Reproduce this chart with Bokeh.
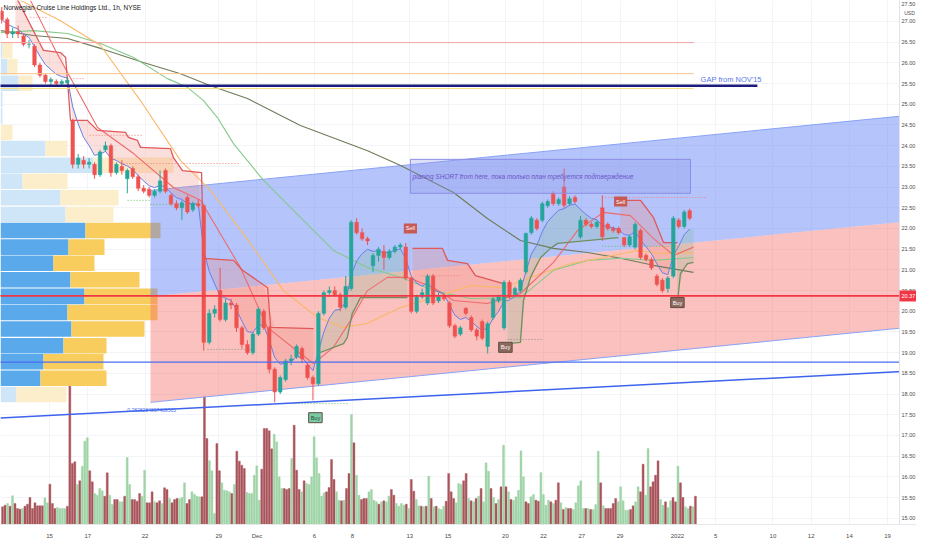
import numpy as np
from bokeh.plotting import figure
from bokeh.models import Range1d, FixedTicker, Label
from bokeh.core.properties import value
from bokeh.embed import file_html
from bokeh.resources import INLINE

# ---------------- data ----------------
title_text = "Norwegian Cruise Line Holdings Ltd., 1h, NYSE"

# x axis: hourly bar index (0 = first bar of Nov 15)
tick_bar = [0, 14, 35, 62, 76, 97, 111, 132, 146, 167, 181, 195, 209, 230, 244, 265, 279, 293, 307]
tick_label = ["15", "17", "22", "29", "Dec", "6", "8", "13", "15", "20", "22", "27", "29",
              "2022", "5", "10", "12", "14", "19"]
price_ticks = [15.0 + 0.5 * k for k in range(25)]

# candles (each covers two hourly bars)
candle_bar = list(range(-18, 236, 2))
c_open = [27.25, 27.05, 26.70, 26.75, 26.65, 26.45, 26.40, 25.95, 25.70, 25.55, 25.55, 25.50, 25.52,
          24.60, 23.55, 23.65, 23.55, 23.55, 23.30, 23.90, 24.00, 23.35, 23.50, 23.20, 23.45, 23.25,
          22.97, 22.95, 22.80, 22.90, 23.40, 22.80, 22.60, 22.50, 22.75, 22.45, 22.60, 22.55, 19.25,
          19.95, 20.50, 19.80, 20.20, 20.15, 19.60, 19.20, 19.00, 19.45, 20.00, 19.60, 18.60, 18.05,
          18.35, 18.80, 18.90, 19.10, 18.70, 18.40, 18.25, 19.95, 20.45, 20.50, 20.40, 20.10, 20.55,
          22.15, 21.90, 21.75, 21.10, 21.35, 21.45, 21.30, 21.45, 21.55, 21.55, 20.80, 20.00, 20.35,
          20.20, 20.85, 20.25, 20.35, 20.20, 19.65, 19.45, 20.07, 19.85, 19.55, 19.75, 19.15, 19.85,
          20.25, 19.60, 20.70, 20.40, 20.50, 20.95, 21.90, 22.20, 22.20, 22.55, 22.85, 22.60, 23.00,
          22.60, 22.75, 21.80, 22.20, 22.10, 22.05, 22.50, 22.10, 22.00, 22.00, 21.78, 21.60, 21.55,
          21.95, 21.35, 21.25, 20.85, 20.75, 20.55, 20.85, 22.20, 22.05, 22.43]
c_high = [27.35, 27.10, 26.85, 26.90, 26.70, 26.55, 26.45, 26.00, 25.75, 25.65, 25.60, 25.60, 25.65,
          24.65, 23.80, 23.75, 23.70, 23.60, 23.90, 24.10, 24.05, 23.60, 23.65, 23.45, 23.50, 23.30,
          23.05, 23.00, 22.95, 23.40, 23.45, 22.85, 22.68, 22.68, 22.80, 22.65, 22.70, 22.60, 20.05,
          20.15, 21.05, 20.30, 20.30, 20.20, 19.65, 19.30, 19.50, 20.10, 20.05, 19.65, 18.65, 18.45,
          18.85, 18.95, 19.20, 19.15, 18.75, 18.45, 20.00, 20.50, 20.60, 20.60, 20.45, 20.85, 22.20,
          22.25, 22.00, 21.80, 21.40, 21.55, 21.60, 21.50, 21.60, 21.65, 21.65, 20.85, 20.40, 20.55,
          20.90, 20.90, 20.45, 20.40, 20.25, 19.70, 19.65, 20.10, 19.90, 19.60, 19.80, 19.75, 20.35,
          20.40, 20.75, 20.75, 20.60, 20.80, 21.90, 22.30, 22.25, 22.65, 22.70, 22.90, 22.75, 23.45,
          22.78, 22.80, 22.30, 22.25, 22.15, 22.20, 22.80, 22.15, 22.05, 22.05, 21.80, 21.85, 22.15,
          22.00, 21.40, 21.30, 20.90, 20.80, 20.85, 22.30, 22.25, 22.45, 22.48]
c_low = [26.95, 26.60, 26.60, 26.60, 26.40, 26.35, 25.90, 25.65, 25.50, 25.45, 25.42, 25.45, 25.48,
         23.45, 23.45, 23.45, 23.45, 23.20, 23.25, 23.85, 23.25, 23.30, 23.30, 22.85, 23.20, 22.90,
         22.85, 22.75, 22.75, 22.85, 22.85, 22.55, 22.44, 22.20, 22.35, 22.40, 22.50, 19.05, 19.20,
         19.85, 19.75, 19.75, 20.05, 19.50, 19.10, 18.95, 18.95, 19.40, 19.55, 18.50, 17.80, 18.00,
         18.30, 18.70, 18.85, 18.75, 18.35, 17.85, 18.20, 19.90, 20.35, 20.35, 20.00, 20.05, 20.50,
         21.85, 21.70, 21.60, 20.95, 21.20, 21.00, 21.25, 21.40, 21.50, 20.75, 19.95, 19.95, 20.30,
         20.15, 20.15, 20.20, 20.25, 19.60, 19.35, 19.40, 19.90, 19.50, 19.30, 19.30, 18.98, 19.80,
         20.20, 19.55, 20.30, 20.35, 20.45, 20.90, 21.85, 21.95, 22.15, 22.50, 22.55, 22.55, 22.50,
         22.55, 22.60, 21.75, 22.05, 22.00, 22.00, 21.70, 21.95, 21.90, 21.85, 21.55, 21.55, 21.50,
         21.25, 21.20, 21.00, 20.60, 20.45, 20.45, 20.80, 22.00, 22.00, 22.20]
c_close = [27.05, 26.70, 26.75, 26.70, 26.45, 26.45, 25.95, 25.70, 25.55, 25.60, 25.50, 25.55, 25.58,
           23.55, 23.70, 23.55, 23.60, 23.30, 23.85, 24.00, 23.35, 23.55, 23.40, 23.40, 23.25, 22.97,
           22.90, 22.80, 22.90, 23.15, 22.90, 22.60, 22.50, 22.62, 22.40, 22.60, 22.55, 19.25, 19.95,
           20.05, 19.80, 20.20, 20.15, 19.60, 19.20, 19.00, 19.45, 20.05, 19.60, 18.60, 18.05, 18.40,
           18.80, 18.85, 19.15, 18.85, 18.40, 18.25, 19.95, 20.45, 20.50, 20.40, 20.10, 20.60, 22.15,
           21.90, 21.75, 21.70, 21.35, 21.50, 21.30, 21.45, 21.55, 21.60, 20.80, 20.00, 20.35, 20.45,
           20.85, 20.20, 20.35, 20.30, 19.65, 19.40, 19.60, 19.95, 19.55, 19.40, 19.35, 19.70, 20.30,
           20.35, 20.70, 20.35, 20.55, 20.75, 21.88, 22.25, 22.00, 22.60, 22.65, 22.60, 22.70, 22.56,
           22.72, 22.65, 22.20, 22.10, 22.05, 22.15, 21.80, 22.00, 21.95, 21.90, 21.60, 21.80, 22.10,
           21.30, 21.25, 21.05, 20.65, 20.50, 20.80, 22.25, 22.05, 22.40, 22.25]

# hourly volume (relative units), with up/down flag per bar
volume = [6.7, 8.3, 10, 7.3, 17.7, 10, 5, 4.3, 5, 7.3,
          9.3, 16, 5, 10.7, 7.7, 7.7, 7.7, 15.7, 10.7, 29.3,
          10, 5, 6, 5, 5, 5, 7.3, 131.7, 50, 51.7,
          29, 32.7, 47.3, 72.3, 75.7, 42.7, 31.7, 20, 18.3, 25,
          22.7, 17.3, 40.7, 18.3, 9, 14, 14, 11.7, 11.7, 17.3,
          56, 29, 14, 14, 12.3, 20, 17.3, 43.3, 10.7, 10.7,
          21.7, 11.7, 10.7, 12.7, 10, 25.7, 24, 15, 10.7, 14,
          15, 15, 16, 30.7, 10, 14, 21.7, 19.3, 17.3, 16.7,
          16.7, 116.7, 75, 52.7, 42.7, 0, 70, 42.7, 30.7, 23.3,
          22.7, 21.7, 20, 29, 62.3, 52.3, 48.3, 45, 21, 20,
          20, 38.3, 47.7, 13.3, 44.3, 85, 85, 82.7, 64.7, 79.3,
          71.7, 36.7, 25, 25, 24, 25, 55, 88.3, 43.3, 24,
          21.7, 32.7, 30, 29, 36.7, 76.7, 55.7, 40, 17.3, 20.7,
          21.7, 26, 54, 34, 21.7, 13.3, 12.7, 13.3, 25, 40,
          99, 70.7, 38.3, 18.3, 14, 15, 15, 21.7, 24, 13.3,
          11.7, 9.3, 11.7, 12.7, 11.7, 17.3, 24, 18.3, 10, 7.3,
          10, 8.3, 9.3, 5, 34, 22.3, 14, 7.7, 7.3, 6.7,
          7.3, 37.3, 15, 6.7, 7.3, 5, 4, 7.3, 12.3, 40,
          21.7, 15, 10.7, 30, 29, 32.7, 40, 15, 12.7, 11.7,
          15, 17.3, 25, 11.7, 50.7, 42.3, 25, 16, 10, 14,
          26.7, 68.3, 26.7, 21.7, 14, 13.3, 16.7, 23.3, 62.7, 36.7,
          11.7, 10, 16.7, 19, 13.3, 12.3, 41, 19, 8.3, 13.3,
          11.7, 10, 13.3, 30.7, 10.7, 4, 6, 5, 5, 4,
          10.7, 27.7, 32.7, 5, 5, 5, 4, 4, 9, 62.3,
          30.7, 7.7, 5, 5, 5, 10, 15, 11.7, 26.7, 12.7,
          3.3, 3.3, 4, 7.7, 11.7, 26.7, 21.7, 49.3, 18.3, 65,
          26.7, 31.7, 38.3, 52.7, 14, 8.3, 11.7, 6, 12.7, 16,
          11.7, 47.3, 30.7, 16, 6.7, 5, 7.3, 6.7, 17.3]
volume_dir = ("rrgrgrrrgr" "rrrrrrrggr" "rrggggrrrr" "grgggrrggg" "grrggrrggr"
              "ggrrrrggrr" "rgrrgrrgrr" "rgggrrgggg" "rrrgggrrgg" "ggrgrrrrgg"
              "ggggrrrrrg" "gggrrrgrrr" "grgggggggg" "rrrrggrgrr" "grggrrrggg"
              "grgrggrrgg" "ggrgrrggrg" "rgrgrgggrr" "rrgggrrgrg" "rgrgggrgrg"
              "rgrgrggggg" "rrggrrgggg" "rgrrgrgrrg" "ggggrgrggg" "rgrrrrrggg"
              "ggrrggrrgg" "rrrrggrggr" "rgrrggrgr")

# visible-range volume profile (row centre price, up volume, down volume, inside value area)
vp_price = [26.30, 25.91, 25.51, 25.12, 24.72, 24.32, 23.93, 23.53, 23.14, 22.74, 22.34,
            21.95, 21.55, 21.16, 20.76, 20.36, 19.97, 19.57, 19.17, 18.78, 18.38, 17.99]
vp_up = [2, 7, 18, 2, 2, 0, 45, 93, 22, 60, 65, 85, 68, 53, 70, 84, 67, 71, 63, 43, 40, 16]
vp_down = [10, 10, 14, 0, 0, 12, 22, 80, 45, 58, 48, 75, 36, 41, 69, 73, 90, 73, 43, 60, 66, 50]
vp_value_area = [False] * 11 + [True] * 10 + [False]

# moving averages (bar index, price)
ma_red_bar = [-7.0, 2.2, 17.6, 30.8, 45.4, 55.3, 69.9, 79.8, 91.9, 96.7, 104.0, 110.3, 116.5, 123.8,
              131.1, 140.7, 148.0, 160.4, 172.5, 184.6, 193.4, 202.9, 212.8, 221.2, 228.6, 235.9]
ma_red = [27.51, 26.30, 24.44, 23.81, 22.99, 22.68, 21.06, 19.61, 18.98, 18.74, 19.13, 19.78, 20.50,
          20.82, 20.82, 20.57, 20.26, 20.19, 20.43, 21.18, 21.95, 22.39, 22.31, 21.76, 21.35, 21.55]
ma_orange_bar = [-10.6, 4.0, 18.7, 33.3, 48.0, 59.0, 73.6, 85.7, 98.2, 107.7, 116.5, 128.6, 143.2,
                 154.2, 166.3, 176.2, 190.8, 202.9, 215.4, 223.8, 235.9]
ma_orange = [27.51, 27.02, 26.42, 25.09, 23.64, 22.92, 21.64, 20.50, 19.85, 19.61, 19.71, 20.09, 20.38,
             20.62, 20.57, 20.82, 21.15, 21.30, 21.47, 21.40, 21.42]
ma_green_bar = [-17.9, -5.9, 6.6, 18.7, 30.8, 43.2, 50.5, 56.4, 61.5, 67.4, 78.4, 91.9, 104.0, 116.5,
                128.6, 140.7, 154.2, 172.5, 184.6, 197.1, 209.2, 221.2, 235.9]
ma_green = [26.73, 26.78, 26.71, 26.47, 26.13, 25.62, 25.41, 25.09, 24.68, 24.05, 23.16, 22.27, 21.47,
            21.06, 20.82, 20.50, 20.31, 20.33, 20.99, 21.23, 21.28, 21.23, 21.30]
ma_dark_bar = [-17.9, -5.9, 6.6, 18.7, 34.4, 48.0, 59.0, 72.5, 91.9, 116.5, 128.6, 148.0, 160.4,
               172.5, 184.6, 197.1, 209.2, 221.2, 235.9]
ma_dark = [26.78, 26.66, 26.59, 26.35, 26.01, 25.74, 25.45, 25.14, 24.49, 23.88, 23.52, 22.87, 22.24,
           21.71, 21.52, 21.42, 21.28, 21.11, 20.94]

# trailing stop (supertrend-like) segments
st_red = [
    ([-12.5, -2.2, 4.0, 5.9, 6.6, 7.7, 13.9, 17.6, 27.8, 28.9, 32.2, 33.3, 44.3, 45.4, 48.7, 55.7,
      56.4, 67.4, 70.7, 79.9, 81.0, 96.7],
     [27.63, 26.30, 26.25, 26.13, 25.57, 24.61, 24.61, 24.37, 24.32, 24.20, 24.13, 23.96, 23.93,
      23.71, 23.40, 23.35, 21.28, 21.23, 20.99, 20.57, 19.61, 19.58]),
    ([133.0, 143.9, 145.8, 153.1, 156.0, 166.3], [21.52, 21.52, 21.23, 21.15, 20.86, 20.67]),
    ([209.2, 216.5, 221.2, 224.9, 230.0], [22.68, 22.68, 22.27, 21.66, 21.66]),
]
st_green = [
    ([98.2, 107.7, 109.1, 110.9, 112.1, 113.9, 131.1], [18.98, 19.22, 19.37, 19.95, 20.09, 20.33, 20.33]),
    ([167.8, 172.5, 173.6, 176.2, 178.0, 179.9, 183.5, 186.1, 208.4],
     [19.22, 19.25, 20.26, 20.82, 21.06, 21.30, 21.52, 21.64, 21.78]),
    ([230.0, 231.1, 233.7, 235.9], [20.19, 20.91, 21.15, 21.18]),
]

# signals (bar, price, text, kind)
signals = [(132.2, 22.00, "Sell", "sell"), (209.2, 22.65, "Sell", "sell"),
           (167.0, 19.13, "Buy", "buy"), (230.0, 20.21, "Buy", "buy"), (97.4, 17.43, "Buy", "buy0")]

# regression channel
ch_bar = [37.0, 315.8]
ch_mid = [20.36, 22.18]
ch_dev = 2.56

# horizontal levels
lvl_pink, lvl_orange, lvl_navy, lvl_yellow = 26.49, 25.74, 25.45, 25.38
lvl_blue, lvl_red = 18.77, 20.37
lvl_end_bar, navy_end_bar = 236.0, 259.3
trend_bar = [-18.0, 315.8]
trend_price = [17.42, 18.56]

# pivot dotted segments (bar0, bar1, price, colour)
pivots = [(-7.0, -0.4, 27.10, "#f47c7c"), (6.6, 13.2, 25.62, "#f47c7c"), (14.7, 34.4, 24.25, "#f47c7c"),
          (26.0, 70.0, 23.57, "#f47c7c"), (28.6, 37.0, 22.68, "#66bb6a"), (37.0, 56.4, 22.58, "#66bb6a"),
          (57.9, 75.5, 19.08, "#8d8d8d"), (83.5, 109.5, 17.77, "#66bb6a"), (135.9, 150.5, 20.86, "#f47c7c"),
          (167.8, 181.0, 19.32, "#8d8d8d"), (202.5, 241.0, 22.75, "#f47c7c"), (202.5, 230.4, 21.57, "#66bb6a")]

gap_text = "GAP from NOV'15"
plan_text = "planing SHORT from here, пока только план требуется подтверждение"
plan_box = (132.2, 234.8, 23.67, 22.85)
fib_text = "0.2828284867489565"

# ---------------- layout ----------------
W, FH = 916, 524
PX_PER_BAR = 2.73
PX_PER_USD = 41.4
X0 = -17.95                       # bar index at the left edge
X1 = X0 + W / PX_PER_BAR
Y1 = 27.507                       # price at the top edge
Y0 = Y1 - FH / PX_PER_USD
SEP = X0 + 899 / PX_PER_BAR       # price-scale separator
PAD = 2 / PX_PER_BAR
FONT = "Liberation Sans"

p = figure(frame_width=W, frame_height=FH, x_range=Range1d(X0, X1), y_range=Range1d(Y0, Y1),
           y_axis_location=None, output_backend="svg", toolbar_location=None,
           min_border_left=0, min_border_top=0, min_border_right=0, min_border_bottom=10)
p.outline_line_color = None
p.background_fill_color = "white"
p.border_fill_color = "white"

xa = p.xaxis[0]
xa.ticker = FixedTicker(ticks=tick_bar)
xa.major_label_overrides = {t: l for t, l in zip(tick_bar, tick_label)}
xa.major_label_text_font_size = "6px"
xa.major_label_text_font = FONT
xa.major_label_text_color = "#4a4a4a"
xa.major_tick_line_color = None
xa.minor_tick_line_color = None
xa.axis_line_color = "#e6e8ee"
xa.major_label_standoff = 2

p.xgrid.ticker = FixedTicker(ticks=tick_bar)
p.ygrid.ticker = FixedTicker(ticks=price_ticks)
p.xgrid.grid_line_color = "#f2f4f8"
p.ygrid.grid_line_color = "#f2f4f8"

# volume (own scale, bottom of pane)
p.extra_y_ranges = {"vol": Range1d(-11, FH - 11)}
vol_x = np.linspace(candle_bar[0] + 0.8, candle_bar[-1] + 2.6, len(volume))
vol_col = ["#a9545b" if d == "r" else "#9fd4a7" for d in volume_dir]
p.vbar(x=vol_x, top=volume, bottom=-20, width=0.72, fill_color=vol_col, line_color=vol_col,
       line_width=0.4, y_range_name="vol")

# volume profile
vp_left = X0
for pr, up, dn, va in zip(vp_price, vp_up, vp_down, vp_value_area):
    cb = "#5aa9ea" if va else "#cfe6f8"
    cy = "#f8cd5e" if va else "#fdeecb"
    r1 = vp_left + up / PX_PER_BAR
    r2 = r1 + dn / PX_PER_BAR
    if up > 0:
        p.hbar(y=[pr], height=0.375, left=[vp_left], right=[r1], fill_color=cb, line_color=None)
    if dn > 0:
        p.hbar(y=[pr], height=0.375, left=[r1], right=[r2], fill_color=cy, line_color=None)

# regression channel
mid = np.array(ch_mid)
p.varea(x=ch_bar, y1=mid, y2=mid + ch_dev, fill_color="#5b7cf5", fill_alpha=0.45)
p.varea(x=ch_bar, y1=mid - ch_dev, y2=mid, fill_color="#f36b66", fill_alpha=0.42)
p.line(ch_bar, mid + ch_dev, line_color="#8aa2f5", line_width=1)
p.line(ch_bar, mid - ch_dev, line_color="#8aa2f5", line_width=1)

# fast EMA of closes
cx = np.array(candle_bar, dtype=float) + 0.5
closes = np.array(c_close)
ema = np.empty_like(closes)
ema[0] = closes[0]
a = 2.0 / 6.0
for k in range(1, len(closes)):
    ema[k] = a * closes[k] + (1 - a) * ema[k - 1]

# trailing stop clouds
def cloud(seg_x, seg_y, color, alpha):
    xs = [seg_x[0]] + [x for x in cx if seg_x[0] < x < seg_x[-1]] + [seg_x[-1]]
    xs = np.array(xs)
    p.varea(x=xs, y1=np.interp(xs, seg_x, seg_y), y2=np.interp(xs, cx, ema),
            fill_color=color, fill_alpha=alpha)

for sx, sy in st_red:
    cloud(sx, sy, "#f28b82", 0.28)
for sx, sy in st_green:
    cloud(sx, sy, "#78b487", 0.22)

# moving averages
p.line(ma_dark_bar, ma_dark, line_color="#6e7c58", line_width=1.1)
p.line(ma_green_bar, ma_green, line_color="#86c98b", line_width=1.1)
p.line(ma_orange_bar, ma_orange, line_color="#f9b866", line_width=1.1)
p.line(ma_red_bar, ma_red, line_color="#ee6b6b", line_width=1.1)
p.line(cx, ema, line_color="#6680e8", line_width=1)

for sx, sy in st_red:
    p.line(sx, sy, line_color="#e0585a", line_width=1.3)
for sx, sy in st_green:
    p.line(sx, sy, line_color="#6f8f5f", line_width=1.3)

# pivots
for b0, b1, pr, col in pivots:
    p.segment(x0=[b0], y0=[pr], x1=[b1], y1=[pr], line_color=col, line_width=1, line_dash="1 2")

# candles
up = closes >= np.array(c_open)
ccol = np.where(up, "#26a69a", "#ef5350")
p.segment(x0=cx, y0=c_low, x1=cx, y1=c_high, line_color=ccol, line_width=1)
p.vbar(x=cx, top=np.maximum(c_open, c_close), bottom=np.minimum(c_open, c_close), width=1.3,
       fill_color=ccol, line_color=ccol, line_width=0.5)

# levels
p.line([X0 - 5, lvl_end_bar], [lvl_pink, lvl_pink], line_color="#f5a3a3", line_width=1)
p.line([X0 - 5, lvl_end_bar], [lvl_orange, lvl_orange], line_color="#f9c58f", line_width=1)
p.line([X0 - 5, lvl_end_bar], [lvl_yellow, lvl_yellow], line_color="#f7dd7a", line_width=1)
p.line([X0 - 5, navy_end_bar], [lvl_navy, lvl_navy], line_color="#1c1c7c", line_width=2.5)
p.line([X0 - 5, X1 + 5], [lvl_blue, lvl_blue], line_color="#4a6cf0", line_width=1.2)
p.line([X0 - 5, X1 + 5], [lvl_red, lvl_red], line_color="#f23645", line_width=1.8)
p.line(trend_bar, trend_price, line_color="#3e63ee", line_width=1.5)

# annotation box and texts
l, r, t, b = plan_box
p.quad(left=[l], right=[r], top=[t], bottom=[b], fill_color="#8f96ea", fill_alpha=0.3,
       line_color="#8c8de4", line_width=1)
p.text(x=[l + 0.8], y=[(t + b) / 2], text=[plan_text], text_font=value(FONT), text_font_style="italic",
       text_font_size="6.5px", text_color="#6a55c8", text_baseline="middle")
p.text(x=[238.5], y=[25.59], text=[gap_text], text_font=value(FONT), text_font_size="7.5px",
       text_color="#5a78ea", text_baseline="middle")
p.text(x=[28.5], y=[17.62], text=[fib_text], text_font=value(FONT), text_font_size="5px",
       text_color="#4a6cf0", text_baseline="middle")

for bx, by, txt, kind in signals:
    if kind == "sell":
        fill, tc = "#c75a55", "white"
    elif kind == "buy":
        fill, tc = "#8c6a5e", "white"
    else:
        fill, tc = "#7ccaa4", "#1d4d3d"
    p.add_layout(Label(x=bx, y=by, text=txt, text_font=FONT, text_font_size="5.5px", text_color=tc,
                       text_align="center", text_baseline="middle", background_fill_color=fill,
                       border_line_color="#5d4a40" if kind != "sell" else None, padding=2))

p.add_layout(Label(x=3, y=FH - 7, x_units="screen", y_units="screen", text=title_text, text_font=FONT,
                   text_font_size="6.5px", text_color="#131722", text_baseline="middle"))

# price scale drawn inside the pane
p.quad(left=[SEP], right=[X1 + 1], top=[Y1 + 1], bottom=[Y0 - 1], fill_color="white", line_color=None)
p.line([SEP, SEP], [Y0 - 1, Y1 + 1], line_color="#e0e3eb", line_width=1)
p.text(x=[SEP + PAD] * len(price_ticks), y=price_ticks, text=[f"{v:.2f}" for v in price_ticks],
       text_font=value(FONT), text_font_size="5.5px", text_color="#4a4a4a", text_baseline="middle")
box_h = 5.5 / PX_PER_USD
p.quad(left=[SEP], right=[X1 + 1], top=[lvl_red + box_h], bottom=[lvl_red - box_h],
       fill_color="#f23645", line_color=None)
p.text(x=[SEP + PAD], y=[lvl_red], text=[f"{lvl_red:.2f}"], text_font=value(FONT),
       text_font_size="5.5px", text_color="white", text_baseline="middle")
p.text(x=[SEP + PAD + 1.0], y=[Y1 - 12 / PX_PER_USD], text=["USD"], text_font=value(FONT),
       text_font_size="5px", text_color="#4a4a4a", text_baseline="middle")
p.text(x=[SEP + PAD], y=[Y1 - 3 / PX_PER_USD], text=["27.50"], text_font=value(FONT),
       text_font_size="5.5px", text_color="#4a4a4a", text_baseline="middle")

open("out.html", "w").write(file_html(p, INLINE))
